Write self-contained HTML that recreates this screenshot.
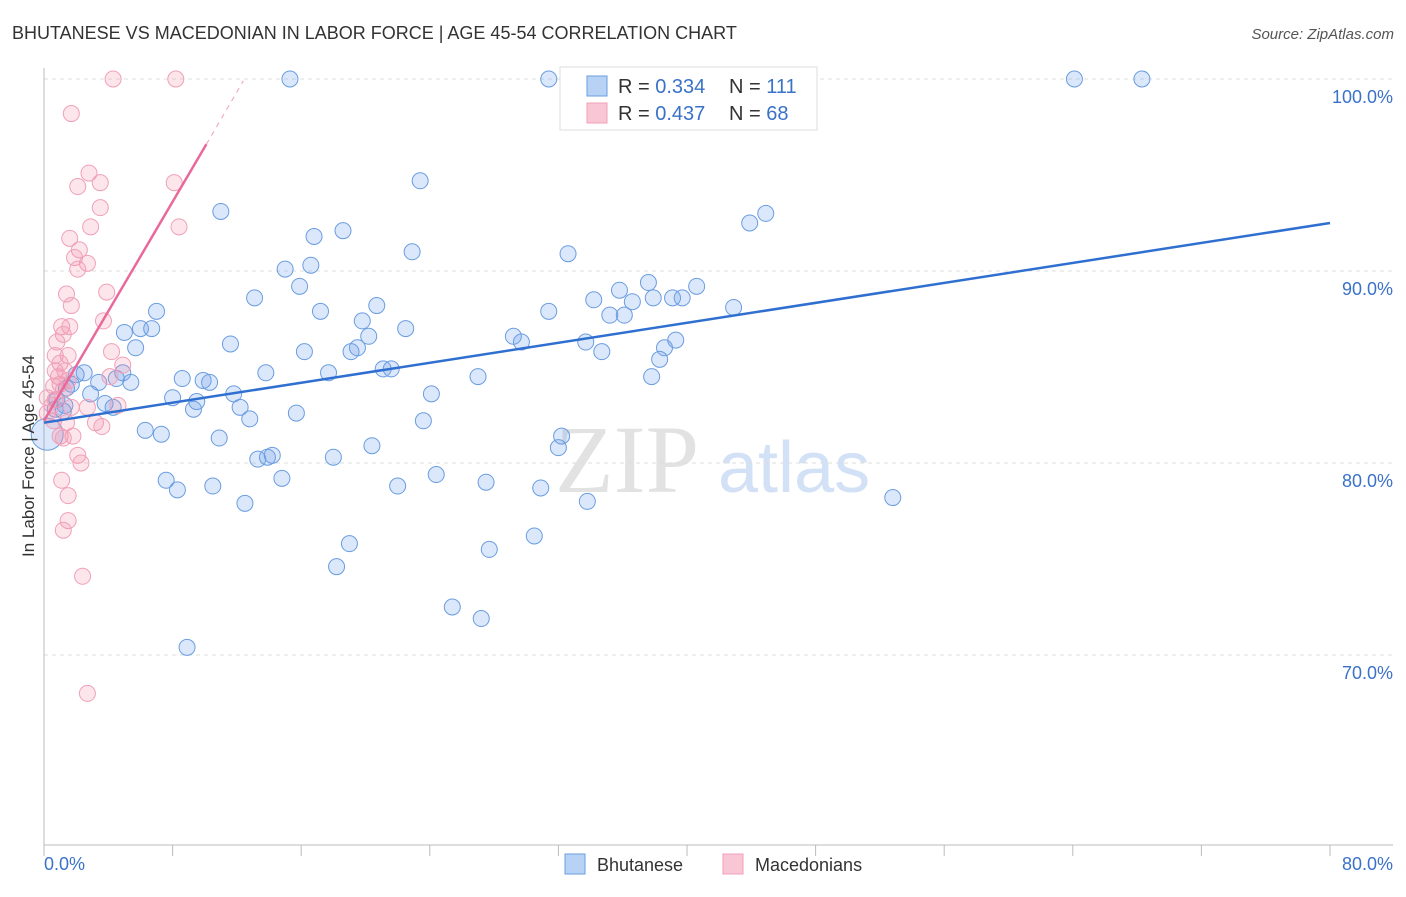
<!DOCTYPE html>
<html><head><meta charset="utf-8"><style>
body{margin:0;background:#fff;font-family:"Liberation Sans",sans-serif}
svg text{font-family:"Liberation Sans",sans-serif}
</style></head><body>
<svg id="chart" width="1406" height="892" viewBox="0 0 1406 892" xmlns="http://www.w3.org/2000/svg">
<text x="12" y="39" font-size="18" fill="#333">BHUTANESE VS MACEDONIAN IN LABOR FORCE | AGE 45-54 CORRELATION CHART</text>
<text x="1394" y="39" font-size="15" fill="#555" font-style="italic" text-anchor="end">Source: ZipAtlas.com</text>
<g>
<text x="555" y="492" font-size="96" fill="#e2e2e2" font-family="Liberation Serif" style="font-family:'Liberation Serif',serif">ZIP</text>
<text x="718" y="492" font-size="72" fill="#d3e1f6">atlas</text>
</g>
<g id="grid"></g><g id="axes"></g><g id="pts"></g><g id="trends"></g>
<text transform="translate(34,456) rotate(-90)" font-size="17" fill="#333" text-anchor="middle">In Labor Force | Age 45-54</text>
<g>
<rect x="560" y="67" width="257" height="63" fill="#fff" stroke="#ddd"/>
<rect x="587" y="76" width="20" height="20" fill="#b8d2f5" stroke="#6a9de0"/>
<rect x="587" y="103" width="20" height="20" fill="#f9c6d5" stroke="#f0a0b8"/>
<text x="618" y="93" font-size="20" fill="#333">R = <tspan fill="#3a72c8">0.334</tspan></text>
<text x="729" y="93" font-size="20" fill="#333">N = <tspan fill="#3a72c8">111</tspan></text>
<text x="618" y="120" font-size="20" fill="#333">R = <tspan fill="#3a72c8">0.437</tspan></text>
<text x="729" y="120" font-size="20" fill="#333">N = <tspan fill="#3a72c8">68</tspan></text>
</g>
<g>
<rect x="565" y="854" width="20" height="20" fill="#b8d2f5" stroke="#6a9de0"/>
<text x="597" y="871" font-size="18" fill="#333">Bhutanese</text>
<rect x="723" y="854" width="20" height="20" fill="#f9c6d5" stroke="#f0a0b8"/>
<text x="755" y="871" font-size="18" fill="#333">Macedonians</text>
</g>
</svg>
<script>
const yTicks=[100,90,80,70];
const yTickLabels=["100.0%","90.0%","80.0%","70.0%"];
const xEndLabels=["0.0%","80.0%"];
const blueX=[15.3,31.4,64.1,68.3,23.4,11.0,44.9,43.9,16.8,18.6,22.9,32.6,15.0,16.6,15.9,13.1,35.8,37.6,34.2,36.6,37.9,39.1,39.7,40.6,42.9,35.2,36.1,31.4,20.7,17.2,7.0,6.0,6.7,5.0,19.8,22.5,20.2,29.2,29.7,33.7,39.3,38.6,34.7,38.3,37.8,5.7,11.6,16.2,19.1,19.5,21.1,21.6,17.7,13.8,27.0,8.6,9.9,10.3,4.9,2.5,2.0,3.4,5.4,4.5,1.7,1.4,11.8,8.0,2.9,3.8,4.3,9.5,9.3,12.2,12.8,15.7,24.1,23.6,1.3,0.7,0.8,1.2,6.3,7.3,10.9,20.4,32.2,32.0,13.3,13.9,14.2,18.0,7.6,8.3,10.5,12.5,14.8,22.0,24.4,27.5,30.9,33.8,52.8,19.0,27.7,30.5,18.2,25.4,27.2,8.9,0.2];
const blueY=[100,100,100,100,94.7,93.1,93.0,92.5,91.8,92.1,91.0,90.9,90.1,90.3,89.2,88.6,89.0,89.4,88.5,88.4,88.6,88.6,88.6,89.2,88.1,87.7,87.7,87.9,88.2,87.9,87.9,87.0,87.0,86.8,87.4,87.0,86.6,86.6,86.3,86.3,86.4,86.0,85.8,85.4,84.5,86.0,86.2,85.8,85.8,86.0,84.9,84.9,84.7,84.7,84.5,84.4,84.3,84.2,84.7,84.7,84.6,84.2,84.2,84.4,84.1,83.9,83.6,83.4,83.6,83.1,82.9,83.2,82.8,82.9,82.3,82.6,83.6,82.2,83.0,82.8,83.3,82.7,81.7,81.5,81.3,80.9,81.4,80.8,80.2,80.3,80.4,80.3,79.1,78.6,78.8,77.9,79.2,78.8,79.4,79.0,78.7,78.0,78.2,75.8,75.5,76.2,74.6,72.5,71.9,70.4,81.5];
const pinkX=[4.3,8.2,1.7,2.8,3.5,2.1,8.1,3.5,2.9,8.4,1.6,2.2,1.9,2.7,2.1,1.4,3.9,1.7,3.7,1.1,1.6,1.2,0.8,4.2,0.7,1.5,1.0,0.7,1.3,0.9,1.5,4.9,4.1,1.0,0.6,1.2,0.2,0.7,0.5,1.7,2.7,4.6,0.2,0.6,1.4,3.2,3.6,1.0,1.8,1.2,2.1,2.3,1.1,1.5,1.5,1.2,2.4,2.7];
const pinkY=[100,100,98.2,95.1,94.6,94.4,94.6,93.3,92.3,92.3,91.7,91.1,90.7,90.4,90.1,88.8,88.9,88.2,87.4,87.1,87.1,86.7,86.3,85.8,85.6,85.6,85.2,84.8,84.8,84.5,84.3,85.1,84.5,84.1,84.0,83.8,83.4,83.3,83.0,82.9,82.9,83.0,82.6,82.2,82.1,82.1,81.9,81.4,81.4,81.3,80.4,80.0,79.1,78.3,77.0,76.5,74.1,68.0];
const blueTrend=[[0,82.1],[80,92.5]];
const pinkTrend=[[0,82.2],[10.1,96.6]];
const pinkTrendDash=[[10.1,96.6],[12.4,99.9]];

const NS="http://www.w3.org/2000/svg";
const X0=44,X1=1330,YT=79;
const sx=v=>X0+(v/80)*(X1-X0);
const sy=v=>YT+(100-v)*19.2;
function mk(tag,attrs,parent){const e=document.createElementNS(NS,tag);for(const k in attrs)e.setAttribute(k,attrs[k]);document.getElementById(parent).appendChild(e);return e;}
yTicks.forEach((t,i)=>{
 const g=mk('line',{x1:X0,x2:1393,y1:sy(t),y2:sy(t),stroke:'#ddd','stroke-dasharray':'4,4'},'grid');
 
 
 const tx=mk('text',{x:1393,y:sy(t)+24,'font-size':18,fill:'#3a72c8','text-anchor':'end'},'grid');
 tx.textContent=yTickLabels[i];
 
 
});
let a=mk('line',{x1:X0,x2:X0,y1:68,y2:845,stroke:'#bbb'},'axes');


a=mk('line',{x1:X0,x2:1393,y1:845,y2:845,stroke:'#bbb'},'axes');


for(let i=0;i<=10;i++){const t=mk('line',{x1:sx(i*8),x2:sx(i*8),y1:845,y2:856,stroke:'#bbb'},'axes');
 
 }
let l=mk('text',{x:44,y:870,'font-size':18,fill:'#3a72c8'},'axes');l.textContent=xEndLabels[0];


l=mk('text',{x:1393,y:870,'font-size':18,fill:'#3a72c8','text-anchor':'end'},'axes');l.textContent=xEndLabels[1];


blueX.forEach((v,i)=>{const big=i===blueX.length-1;
 const c=mk('circle',{cx:sx(v),cy:sy(blueY[i]),r:big?16:8,fill:'rgba(110,160,235,0.25)',stroke:'#6a9de0','stroke-width':1},'pts');
 
 });
pinkX.forEach((v,i)=>{
 const c=mk('circle',{cx:sx(v),cy:sy(pinkY[i]),r:8,fill:'rgba(240,140,170,0.22)',stroke:'#f0a0b8','stroke-width':1},'pts');
 
 });
let tl=mk('line',{x1:sx(blueTrend[0][0]),y1:sy(blueTrend[0][1]),x2:sx(blueTrend[1][0]),y2:sy(blueTrend[1][1]),stroke:'#2f6fd0','stroke-width':2.5},'trends');


tl=mk('line',{x1:sx(pinkTrend[0][0]),y1:sy(pinkTrend[0][1]),x2:sx(pinkTrend[1][0]),y2:sy(pinkTrend[1][1]),stroke:'#e8699a','stroke-width':2.5},'trends');


tl=mk('line',{x1:sx(pinkTrendDash[0][0]),y1:sy(pinkTrendDash[0][1]),x2:sx(pinkTrendDash[1][0]),y2:sy(pinkTrendDash[1][1]),stroke:'#f0a0b8','stroke-width':1,'stroke-dasharray':'5,5'},'trends');


</script>
</body></html>
